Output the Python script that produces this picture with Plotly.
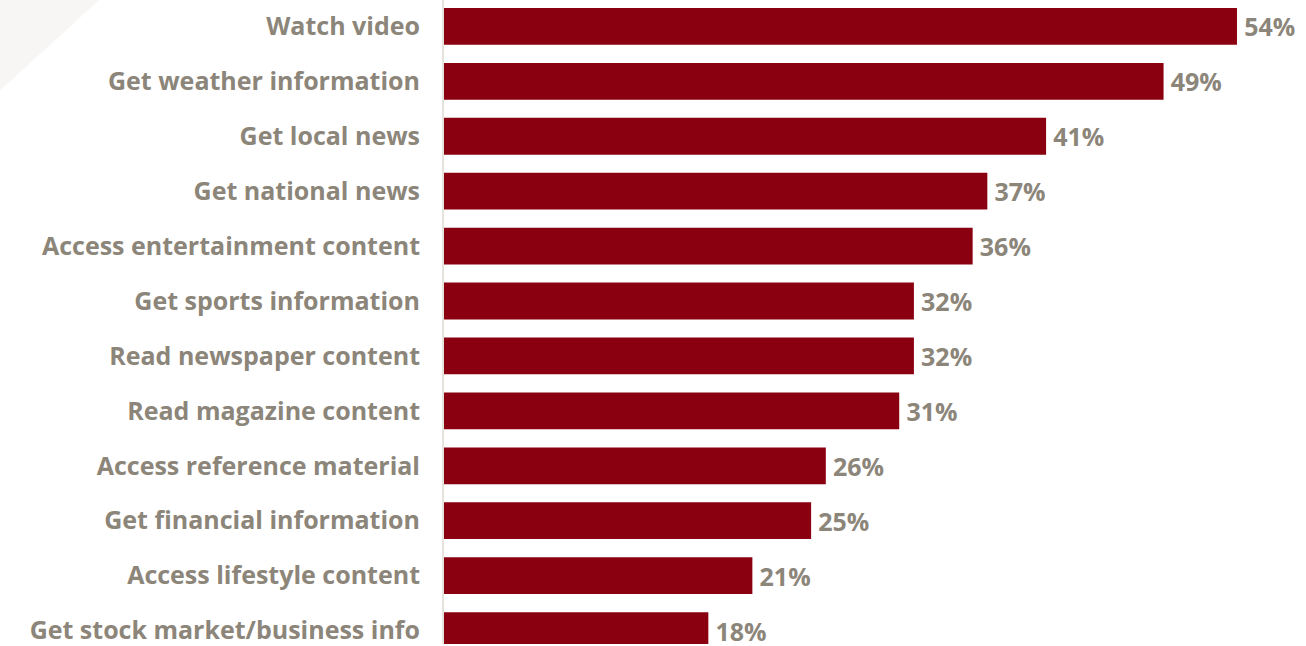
import plotly.graph_objects as go

categories = [
    "Watch video",
    "Get weather information",
    "Get local news",
    "Get national news",
    "Access entertainment content",
    "Get sports information",
    "Read newspaper content",
    "Read magazine content",
    "Access reference material",
    "Get financial information",
    "Access lifestyle content",
    "Get stock market/business info",
]
values = [54, 49, 41, 37, 36, 32, 32, 31, 26, 25, 21, 18]
value_labels = [f"\u2009{v}%" for v in values]

BAR = "#8B0010"
TXT = "#8C8579"
FONT = "'Open Sans', sans-serif"

fig = go.Figure(
    go.Bar(
        x=values,
        y=categories,
        orientation="h",
        marker=dict(color=BAR, line=dict(width=0)),
        text=value_labels,
        textposition="outside",
        textfont=dict(family=FONT, size=25, color=TXT, weight="bold"),
        cliponaxis=False,
        width=0.67,
    )
)

fig.update_layout(
    width=1306,
    height=646,
    margin=dict(l=444, r=0, t=0, b=0),
    paper_bgcolor="white",
    plot_bgcolor="white",
    showlegend=False,
    uniformtext=dict(mode=False),
    shapes=[
        dict(
            type="path",
            xref="paper", yref="paper",
            path="M -0.515 1 L -0.4 1 L -0.515 0.86 Z",
            fillcolor="#f7f6f4",
            line=dict(width=0),
            layer="below",
        )
    ],
)

fig.update_xaxes(
    range=[0, 58.7],
    showgrid=False,
    zeroline=False,
    showticklabels=False,
    showline=False,
)
fig.update_yaxes(
    range=[11.245, -0.481],
    showgrid=False,
    zeroline=False,
    showline=True,
    linecolor="#e6e2de",
    linewidth=2,
    ticks="",
    ticklabelstandoff=17,
    tickfont=dict(family=FONT, size=25, color=TXT, weight="bold"),
)

fig.write_html("out.html")
